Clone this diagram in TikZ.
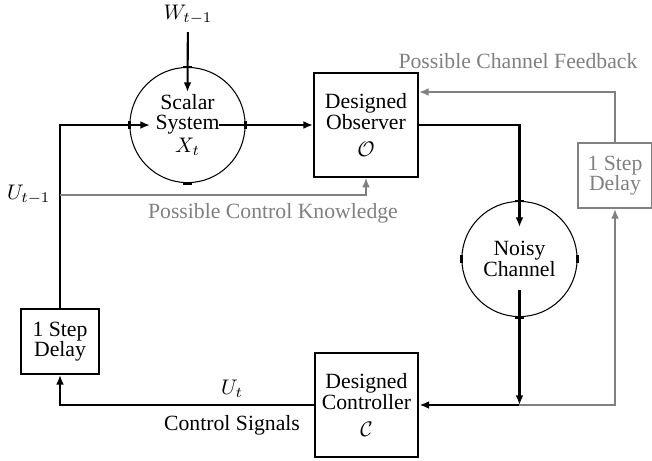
\documentclass[tikz,border=0pt]{standalone}
\usepackage{fontspec}
\setmainfont{Liberation Serif}
\usetikzlibrary{arrows.meta}

\begin{document}
\begin{tikzpicture}[
    font=\fontsize{10.3}{12}\selectfont,
    sig/.style={line width=1pt, -{Latex[length=1.6mm, width=1.3mm]}},
    gsig/.style={sig, gray},
    blk/.style={draw, line width=1pt, align=center, minimum width=1.73cm, minimum height=1.72cm,
                font=\fontsize{10.3}{9.8}\selectfont},
    dlybox/.style={draw, line width=1pt, align=center, minimum width=1.3cm, minimum height=1.08cm,
                   inner sep=1pt, font=\fontsize{10.3}{9.8}\selectfont},
    disc/.style={draw, circle, line width=0.5pt, align=center, minimum size=1.92cm, inner sep=0pt,
                 font=\fontsize{10.3}{9.8}\selectfont},
    glab/.style={text=gray}
  ]

    \useasboundingbox (0,0) rectangle (10.867,7.667);

    % blocks
    \node[disc] (sys) at (3.125,5.583) {Scalar\\System\\[1pt]$X_t$};
    \node[disc] (chan) at (8.658,3.35) {Noisy\\Channel};
    \node[blk] (obs) at (6.1,5.583) {Designed\\Observer\\[3pt]$\mathcal{O}$};
    \node[blk] (ctrl) at (6.108,0.917) {Designed\\Controller\\[3pt]$\mathcal{C}$};
    \node[dlybox] (dly) at (1.0,1.975) {1 Step\\Delay};
    \node[dlybox, draw=gray, text=gray, minimum width=1.22cm] (fbdly) at (10.25,4.742) {1 Step\\Delay};

    % little marks on the circles
    \foreach \c in {sys,chan} {
        \draw[line width=1.3pt] (\c.north) ++(-0.07,0) -- ++(0.14,0);
        \draw[line width=1.3pt] (\c.south) ++(-0.07,0) -- ++(0.14,0);
        \draw[line width=1.3pt] (\c.east) ++(0,-0.07) -- ++(0,0.14);
        \draw[line width=1.3pt] (\c.west) ++(0,-0.07) -- ++(0,0.14);
    }

    % labels
    \node (wlab) at (3.133,7.417) {$W_{t-1}$};
    \node (ut) at (3.867,1.183) {$U_t$};
    \node (csig) at (3.867,0.583) {Control Signals};
    \node[glab] (ckn) at (4.55,4.117) {Possible Control Knowledge};
    \node[glab] (cfb) at (8.633,6.65) {Possible Channel Feedback};

    \coordinate (sysw) at (3.125,6.133);
    \coordinate (sysin) at (2.5,5.583);
    \coordinate (sysout) at (3.65,5.583);
    \coordinate (ul) at (1.0,5.583);
    \coordinate (ukn) at (1.0,4.417);
    \coordinate (chanin) at (8.658,3.883);
    \coordinate (chanout) at (8.658,2.833);
    \coordinate (junc) at (8.658,0.917);
    \coordinate (fbcorner) at (10.25,6.133);

    \node[left=1pt] (ulab) at (ukn) {$U_{t-1}$};

    % signals
    \draw[sig] (wlab) -- (sysw);
    \draw[sig] (dly.north) -- (ul) -- (sysin);
    \draw[sig] (sysout) -- (obs.west);
    \draw[sig] (obs.east) -| (chanin);
    \draw[sig] (chanout) -- (junc);
    \draw[sig] (junc) -- (ctrl.east);
    \draw[sig] (ctrl.west) -| (dly.south);

    \draw[gsig] (ukn) -| (obs.south);
    \draw[gsig] (junc) -| (fbdly.south);
    \draw[gsig] (fbdly.north) -- (fbcorner) -- (obs.east |- fbcorner);

\end{tikzpicture}
\end{document}
